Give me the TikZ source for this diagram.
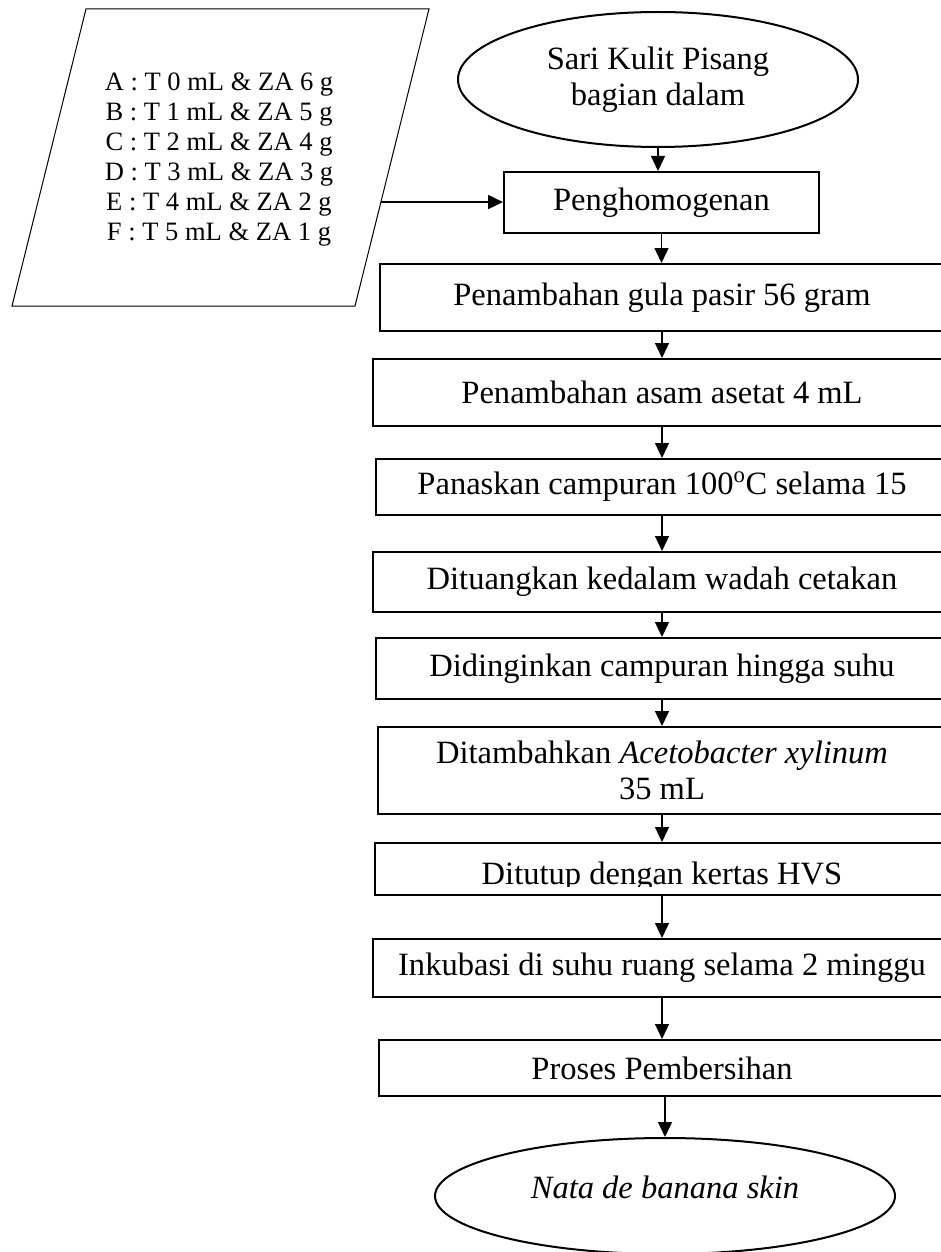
\documentclass[tikz,border=0pt]{standalone}
\usepackage{fontspec}
\setmainfont{Liberation Serif}
\usetikzlibrary{arrows.meta,shapes.geometric,calc}
\newcommand{\pxu}{0.75pt}
\newcommand{\bigtext}{\fontsize{24.4pt}{27pt}\selectfont}
\newcommand{\smalltext}{\fontsize{19.9pt}{22.5pt}\selectfont}
\begin{document}
\begin{tikzpicture}[x=0.75pt,y=-0.75pt,
  procbox/.style={draw, rectangle, line width=1.5pt, inner sep=0pt, align=center, font=\bigtext},
  oval/.style={draw, ellipse, line width=1.5pt, inner sep=0pt, align=center, font=\bigtext},
  datatext/.style={inner sep=0pt, align=center, font=\smalltext},
  arr/.style={-{Triangle[length=11.25pt,width=10.5pt]}, line width=1pt}
]
\useasboundingbox (0,0) rectangle (941,1252);
\clip (0,0) rectangle (941,1252);

% input parallelogram
\coordinate (p1) at (86,9);
\coordinate (p2) at (429,9);
\coordinate (p3) at (355,306);
\coordinate (p4) at (12,306);
\draw[line width=0.75pt] (p1) -- (p2) -- (p3) -- (p4) -- cycle;
\node[datatext] (para) at (219,160) {A : T 0 mL \& ZA 6 g\\B : T 1 mL \& ZA 5 g\\C : T 2 mL \& ZA 4 g\\D : T 3 mL \& ZA 3 g\\E : T 4 mL \& ZA 2 g\\F : T 5 mL \& ZA 1 g};
\coordinate (pin) at ($(p2)!0.65!(p3)$);

% main flow
\node[oval, minimum width=400*\pxu, minimum height=135*\pxu] (src) at (658,79.5) {Sari Kulit Pisang\\bagian dalam};
\node[procbox, minimum width=315*\pxu, minimum height=61*\pxu] (hom) at (661.5,202.5) {Penghomogenan};
\node[procbox, minimum width=564*\pxu, minimum height=67*\pxu] (b1) at (662,297.5) {Penambahan gula pasir 56 gram};
\node[procbox, minimum width=578*\pxu, minimum height=67*\pxu] (b2) at (662,392.5) {Penambahan asam asetat 4 mL};
\node[procbox, minimum width=572*\pxu, minimum height=56*\pxu] (b3) at (662,487) {Panaskan campuran 100\textsuperscript{o}C selama 15};
\node[procbox, minimum width=578*\pxu, minimum height=60*\pxu] (b4) at (662,582) {Dituangkan kedalam wadah cetakan};
\node[procbox, minimum width=572*\pxu, minimum height=61*\pxu] (b5) at (662,668.5) {Didinginkan campuran hingga suhu};
\node[procbox, minimum width=568*\pxu, minimum height=87*\pxu] (b6) at (662,770.5) {Ditambahkan \textit{Acetobacter xylinum}\\35 mL};
\node[procbox, minimum width=574*\pxu, minimum height=52*\pxu] (b7) at (662,869) {};
\begin{scope}
  \clip (300,840) rectangle (941,886);
  \node[inner sep=0pt, anchor=base, font=\bigtext] (b7t) at (662,884) {Ditutup dengan kertas HVS};
\end{scope}
\node[procbox, minimum width=578*\pxu, minimum height=58*\pxu] (b8) at (662,968) {Inkubasi di suhu ruang selama 2 minggu};
\node[procbox, minimum width=566*\pxu, minimum height=56*\pxu] (b9) at (662,1068) {Proses Pembersihan};
\node[oval, minimum width=460*\pxu, minimum height=116*\pxu, text height=16.5pt, text depth=13.5pt] (end) at (665,1196) {\textit{Nata de banana skin}};

% connectors
\draw[arr] (src.south) -- (src.south |- hom.north);
\draw[arr, line width=1.5pt] (pin) -- (pin -| hom.west);
\draw[arr] (hom.south) -- (hom.south |- b1.north);
\draw[arr] (b1.south) -- (b2.north);
\draw[arr] (b2.south) -- (b3.north);
\draw[arr] (b3.south) -- (b4.north);
\draw[arr] (b4.south) -- (b5.north);
\draw[arr] (b5.south) -- (b6.north);
\draw[arr] (b6.south) -- (b7.north);
\draw[arr] (b7.south) -- (b8.north);
\draw[arr] (b8.south) -- (b9.north);
\draw[arr] (b9.south -| end.north) -- (end.north);
\end{tikzpicture}
\end{document}
